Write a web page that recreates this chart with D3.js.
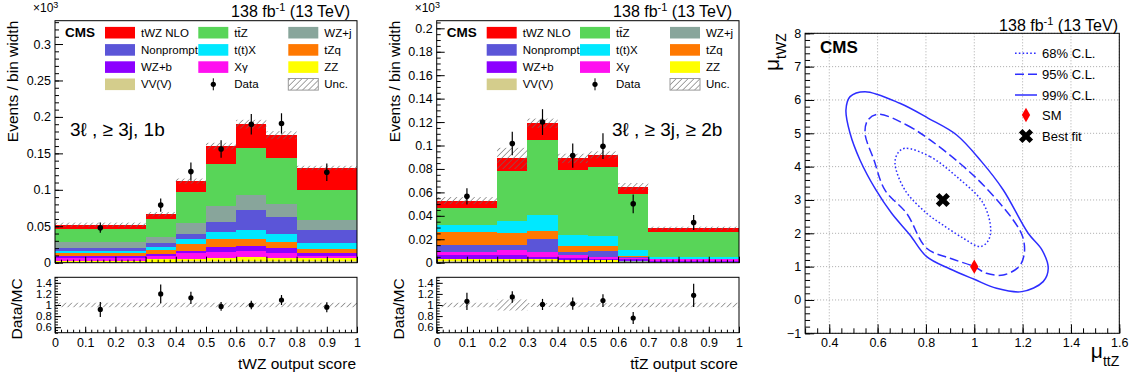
<!DOCTYPE html>
<html>
<head>
<meta charset="utf-8">
<script src="https://cdn.jsdelivr.net/npm/d3@7/dist/d3.min.js"></script>
<style>
  body { margin: 0; background: #fff; }
  svg text { font-family: "Liberation Sans", Arial, Helvetica, sans-serif; fill: #000; }
</style>
</head>
<body>
<svg id="chart" width="1137" height="380"></svg>
<script>
/* ---------- data (units of 10^3 events / bin width) ---------- */

// 3l, >=3j, 1b : tWZ output score
const oneBEdges = [0, 0.3, 0.4, 0.5, 0.6, 0.7, 0.8, 1.0];
const oneB_VVV = [0.0010, 0.0015, 0.0020, 0.0020, 0.0030, 0.0025, 0.0020];
const oneB_ZZ  = [0.0017, 0.0031, 0.0030, 0.0040, 0.0052, 0.0043, 0.0040];
const oneB_Xg  = [0.0041, 0.0050, 0.0078, 0.0090, 0.0078, 0.0060, 0.0036];
const oneB_WZb = [0.0028, 0.0023, 0.0036, 0.0070, 0.0068, 0.0068, 0.0041];
const oneB_tZq = [0.0041, 0.0054, 0.0091, 0.0100, 0.0092, 0.0082, 0.0045];
const oneB_ttX = [0.0023, 0.0037, 0.0065, 0.0100, 0.0127, 0.0122, 0.0082];
const oneB_NP  = [0.0036, 0.0054, 0.0080, 0.0140, 0.0273, 0.0230, 0.0183];
const oneB_WZj = [0.0091, 0.0092, 0.0138, 0.0220, 0.0215, 0.0170, 0.0133];
const oneB_ttZ = [0.0173, 0.0237, 0.0432, 0.0580, 0.0645, 0.0630, 0.0420];
const oneB_tWZ = [0.0060, 0.0073, 0.0150, 0.0240, 0.0320, 0.0320, 0.0300];
const oneB_unc = [0.003, 0.003, 0.0035, 0.0045, 0.006, 0.0055, 0.003];
const oneB_data = [0.048, 0.079, 0.125, 0.156, 0.190, 0.191, 0.124];
const oneB_dataErr = [0.007, 0.009, 0.0125, 0.012, 0.014, 0.014, 0.012];
const oneB_ratio = [0.92, 1.20, 1.13, 0.975, 1.00, 1.09, 0.96];
const oneB_ratioErr = [0.135, 0.17, 0.11, 0.08, 0.075, 0.09, 0.09];
const oneB_ratioUnc = [0.04, 0.04, 0.04, 0.04, 0.04, 0.04, 0.04];

// 3l, >=3j, >=2b : ttZ output score
const twoBEdges = [0, 0.2, 0.3, 0.4, 0.5, 0.6, 0.7, 1.0];
const twoB_VVV = [0.0015, 0.0015, 0.0015, 0.0010, 0.0010, 0.0005, 0.0003];
const twoB_ZZ  = [0.0015, 0.0015, 0.0015, 0.0010, 0.0010, 0.0005, 0.0003];
const twoB_WZj = [0.0005, 0.0005, 0.0005, 0.0005, 0.0005, 0.0005, 0.0002];
const twoB_WZb = [0.0030, 0.0030, 0.0016, 0.0012, 0.0010, 0.0013, 0.0010];
const twoB_Xg  = [0.0029, 0.0044, 0.0043, 0.0028, 0.0016, 0.0009, 0.0010];
const twoB_NP  = [0.0057, 0.0042, 0.0106, 0.0029, 0.0049, 0.0008, 0.0002];
const twoB_tZq = [0.0114, 0.0100, 0.0073, 0.0048, 0.0042, 0.0012, 0.0002];
const twoB_ttX = [0.0056, 0.0106, 0.0134, 0.0094, 0.0088, 0.0051, 0.0014];
const twoB_ttZ = [0.0145, 0.0423, 0.0643, 0.0554, 0.0590, 0.0481, 0.0219];
const twoB_tWZ = [0.0064, 0.0110, 0.0140, 0.0100, 0.0100, 0.0061, 0.0028];
const twoB_unc = [0.003, 0.009, 0.004, 0.004, 0.003, 0.003, 0.0015];
const twoB_data = [0.0566, 0.1017, 0.120, 0.0914, 0.0994, 0.0503, 0.0343];
const twoB_dataErr = [0.007, 0.010, 0.011, 0.0104, 0.011, 0.008, 0.0064];
const twoB_ratio = [1.066, 1.145, 1.01, 1.024, 1.08, 0.765, 1.175];
const twoB_ratioErr = [0.155, 0.105, 0.10, 0.11, 0.115, 0.11, 0.21];
const twoB_ratioUnc = [0.04, 0.10, 0.035, 0.04, 0.035, 0.04, 0.04];

// 2D likelihood scan contours, points (mu_ttZ, mu_tWZ)
const cl68 = [[0.713, 4.55], [0.817, 4.30], [0.927, 3.70], [1.037, 2.90], [1.068, 2.10],
  [1.055, 1.75], [1.024, 1.60], [0.955, 1.85], [0.870, 2.25], [0.803, 2.60], [0.713, 3.30],
  [0.672, 4.10], [0.685, 4.42]];
const cl95 = [[0.603, 5.57], [0.720, 5.25], [0.817, 4.80], [0.940, 4.10], [1.037, 3.45],
  [1.161, 2.40], [1.200, 1.90], [1.207, 1.40], [1.185, 1.00], [1.120, 0.75], [1.050, 0.80],
  [1.000, 1.00], [0.900, 1.25], [0.803, 1.55], [0.720, 2.60], [0.630, 3.30], [0.585, 4.20],
  [0.548, 5.00], [0.560, 5.40]];
const cl99 = [[0.548, 6.25], [0.692, 5.90], [0.810, 5.45], [0.927, 4.95], [1.030, 4.15],
  [1.120, 3.30], [1.223, 2.00], [1.280, 1.50], [1.306, 0.95], [1.285, 0.55], [1.196, 0.25],
  [1.092, 0.35], [1.000, 0.62], [0.900, 0.93], [0.803, 1.30], [0.734, 1.95], [0.658, 2.60],
  [0.593, 3.30], [0.527, 4.20], [0.486, 5.00], [0.469, 5.70], [0.486, 6.10]];
const smPoint = [1.0, 1.0];
const bestFit = [0.87, 3.0];

/* ---------- styling ---------- */
const colors = {
  tWZ: '#ff0000', ttZ: '#58d558', WZj: '#88a59b', NP: '#5b55d8', ttX: '#00e8ff',
  tZq: '#ff7800', WZb: '#8c00ff', Xg: '#ff10f0', ZZ: '#ffff00', VVV: '#d4cd8c'
};
const legendEntries = [
  ['tWZ', 'tWZ NLO'], ['ttZ', 'tt\u0304Z'], ['WZj', 'WZ+j'],
  ['NP', 'Nonprompt'], ['ttX', 't(t)X'], ['tZq', 'tZq'],
  ['WZb', 'WZ+b'], ['Xg', 'X\u03b3'], ['ZZ', 'ZZ'],
  ['VVV', 'VV(V)'], ['data', 'Data'], ['unc', 'Unc.']
];
const blue = '#2d2dff';
const fontFam = '"Liberation Sans", Arial, Helvetica, sans-serif';

const mainTop = 20.7, mainBottom = 262.7, ratioTop = 277.3, ratioBottom = 332.7;

const svg = d3.select('#chart');
const defs = svg.append('defs');
const hatch = defs.append('pattern')
  .attr('id', 'hatch')
  .attr('patternUnits', 'userSpaceOnUse')
  .attr('width', 4.2).attr('height', 4.2)
  .attr('patternTransform', 'rotate(45)');
hatch.append('line')
  .attr('x1', 0).attr('y1', 0).attr('x2', 0).attr('y2', 4.2)
  .attr('stroke', '#6a6a6a').attr('stroke-width', 1.2);

function styleAxis(a, size) {
  a.select('.domain').remove();
  a.attr('font-family', fontFam).attr('font-size', size);
  a.selectAll('line').attr('stroke', '#000');
}

function steps(lo, hi, st) {
  return d3.range(Math.round((hi - lo) / st) + 1).map(i => +(lo + i * st).toFixed(6));
}

function cmsLumi(g, xRight, yBase) {
  const t = g.append('text')
    .attr('x', xRight).attr('y', yBase)
    .attr('text-anchor', 'end')
    .attr('font-size', 16);
  t.append('tspan').text('138 fb');
  t.append('tspan').attr('dy', -6).attr('font-size', 11).text('-1');
  t.append('tspan').attr('dy', 6).text(' (13 TeV)');
}

function drawHistPanel(p) {
  const g = svg.append('g');
  const x = d3.scaleLinear().domain([0, 1]).range([p.left, p.right]);
  const y = d3.scaleLinear().domain([0, p.yMax]).range([mainBottom, mainTop]);
  const yr = d3.scaleLinear().domain([0.5, 1.5]).range([ratioBottom, ratioTop]);

  // stacked histogram
  const table = p.edges.slice(0, -1).map((lo, i) => {
    const row = { lo: lo, hi: p.edges[i + 1] };
    p.order.forEach(k => { row[k] = p.yields[k][i]; });
    return row;
  });
  const layers = d3.stack().keys(p.order)(table);

  g.append('g').selectAll('g')
    .data(layers).join('g')
    .attr('fill', d => colors[d.key])
    .selectAll('rect')
    .data(d => d).join('rect')
    .attr('x', d => x(d.data.lo))
    .attr('width', d => x(d.data.hi) - x(d.data.lo))
    .attr('y', d => y(d[1]))
    .attr('height', d => Math.max(0, y(d[0]) - y(d[1])))
    .attr('shape-rendering', 'crispEdges');

  // uncertainty band
  const totals = layers[layers.length - 1];
  g.append('g').selectAll('rect')
    .data(totals).join('rect')
    .attr('x', d => x(d.data.lo))
    .attr('width', d => x(d.data.hi) - x(d.data.lo))
    .attr('y', (d, i) => y(d[1] + p.unc[i]))
    .attr('height', (d, i) => y(d[1] - p.unc[i]) - y(d[1] + p.unc[i]))
    .attr('fill', 'url(#hatch)');

  // data points
  const centers = table.map(r => (r.lo + r.hi) / 2);
  const pts = g.append('g').selectAll('g')
    .data(p.data).join('g');
  pts.append('line')
    .attr('x1', (d, i) => x(centers[i])).attr('x2', (d, i) => x(centers[i]))
    .attr('y1', (d, i) => y(d - p.dataErr[i])).attr('y2', (d, i) => y(d + p.dataErr[i]))
    .attr('stroke', '#000').attr('stroke-width', 1.2);
  pts.append('circle')
    .attr('cx', (d, i) => x(centers[i])).attr('cy', d => y(d))
    .attr('r', 2.8).attr('fill', '#000');

  // main frame + axes
  g.append('rect')
    .attr('x', p.left).attr('y', mainTop)
    .attr('width', p.right - p.left).attr('height', mainBottom - mainTop)
    .attr('fill', 'none').attr('stroke', '#000');

  g.append('g').attr('transform', `translate(${p.left},0)`)
    .call(d3.axisLeft(y).tickValues(steps(0, p.yMax - (p.yMax % p.yMajor), p.yMajor))
      .tickSize(-8).tickPadding(4).tickFormat(d3.format('~g')))
    .call(a => styleAxis(a, 12.5));
  g.append('g').attr('transform', `translate(${p.left},0)`)
    .call(d3.axisLeft(y).tickValues(steps(0, p.yMax - (p.yMax % p.yMinor), p.yMinor))
      .tickSize(-4).tickFormat(''))
    .call(a => styleAxis(a, 10));
  g.append('g').attr('transform', `translate(0,${mainBottom})`)
    .call(d3.axisBottom(x).tickValues(steps(0, 1, 0.1)).tickSize(-6).tickFormat(''))
    .call(a => styleAxis(a, 10));
  g.append('g').attr('transform', `translate(0,${mainBottom})`)
    .call(d3.axisBottom(x).tickValues(steps(0, 1, 0.02)).tickSize(-3).tickFormat(''))
    .call(a => styleAxis(a, 10));

  // ratio panel
  g.append('g').selectAll('rect')
    .data(table).join('rect')
    .attr('x', d => x(d.lo))
    .attr('width', d => x(d.hi) - x(d.lo))
    .attr('y', (d, i) => yr(1 + p.ratioUnc[i]))
    .attr('height', (d, i) => yr(1 - p.ratioUnc[i]) - yr(1 + p.ratioUnc[i]))
    .attr('fill', 'url(#hatch)');

  const rpts = g.append('g').selectAll('g')
    .data(p.ratio).join('g');
  rpts.append('line')
    .attr('x1', (d, i) => x(centers[i])).attr('x2', (d, i) => x(centers[i]))
    .attr('y1', (d, i) => yr(d - p.ratioErr[i])).attr('y2', (d, i) => yr(d + p.ratioErr[i]))
    .attr('stroke', '#000').attr('stroke-width', 1.2);
  rpts.append('circle')
    .attr('cx', (d, i) => x(centers[i])).attr('cy', d => yr(d))
    .attr('r', 2.6).attr('fill', '#000');

  g.append('rect')
    .attr('x', p.left).attr('y', ratioTop)
    .attr('width', p.right - p.left).attr('height', ratioBottom - ratioTop)
    .attr('fill', 'none').attr('stroke', '#000');

  g.append('g').attr('transform', `translate(${p.left},0)`)
    .call(d3.axisLeft(yr).tickValues([0.6, 0.8, 1, 1.2, 1.4])
      .tickSize(-6).tickPadding(3).tickFormat(d3.format('~g')))
    .call(a => styleAxis(a, 11.5));
  g.append('g').attr('transform', `translate(${p.left},0)`)
    .call(d3.axisLeft(yr).tickValues(steps(0.5, 1.5, 0.05)).tickSize(-3).tickFormat(''))
    .call(a => styleAxis(a, 10));
  g.append('g').attr('transform', `translate(0,${ratioBottom})`)
    .call(d3.axisBottom(x).tickValues(steps(0, 1, 0.1))
      .tickSize(-6).tickPadding(5).tickFormat(d3.format('~g')))
    .call(a => styleAxis(a, 12.5));
  g.append('g').attr('transform', `translate(0,${ratioBottom})`)
    .call(d3.axisBottom(x).tickValues(steps(0, 1, 0.02)).tickSize(-3).tickFormat(''))
    .call(a => styleAxis(a, 10));

  // titles
  g.append('text')
    .attr('transform', `translate(${p.left - 37},${mainTop}) rotate(-90)`)
    .attr('text-anchor', 'end').attr('font-size', 15.5)
    .text('Events / bin width');
  g.append('text')
    .attr('transform', `translate(${p.left - 33},${ratioTop + 1}) rotate(-90)`)
    .attr('text-anchor', 'end').attr('font-size', 15.5)
    .text('Data/MC');
  g.append('text')
    .attr('x', p.right - 1).attr('y', 369)
    .attr('text-anchor', 'end').attr('font-size', 15.5)
    .text(p.xTitle);

  const e3 = g.append('text').attr('x', p.left - 22).attr('y', 12).attr('font-size', 12);
  e3.append('tspan').text('\u00d710');
  e3.append('tspan').attr('dy', -4).attr('font-size', 9).text('3');

  cmsLumi(g, p.right - 7, 16.5);

  g.append('text')
    .attr('x', p.left + 10).attr('y', 36.7)
    .attr('font-weight', 'bold').attr('font-size', 13.5)
    .text('CMS');

  g.append('text')
    .attr('x', p.labelX).attr('y', 136)
    .attr('font-size', 19)
    .text(p.region);

  // legend
  const leg = g.append('g').attr('font-size', 11.5);
  const colX = [50, 143.3, 233.3];
  legendEntries.forEach((e, i) => {
    const bx = p.left + colX[i % 3];
    const cy = 32.7 + Math.floor(i / 3) * 17.2;
    if (e[0] === 'data') {
      leg.append('line').attr('x1', bx + 15).attr('x2', bx + 15)
        .attr('y1', cy - 6).attr('y2', cy + 6).attr('stroke', '#000');
      leg.append('circle').attr('cx', bx + 15).attr('cy', cy).attr('r', 2.6);
    } else if (e[0] === 'unc') {
      leg.append('rect').attr('x', bx).attr('y', cy - 5.8).attr('width', 30).attr('height', 11.6)
        .attr('fill', 'url(#hatch)').attr('stroke', '#999');
    } else {
      leg.append('rect').attr('x', bx).attr('y', cy - 5.8).attr('width', 30).attr('height', 11.6)
        .attr('fill', colors[e[0]]);
    }
    leg.append('text').attr('x', bx + 36).attr('y', cy + 4).text(e[1]);
  });
}

drawHistPanel({
  left: 55, right: 357,
  yMax: 0.332, yMajor: 0.05, yMinor: 0.01,
  edges: oneBEdges,
  order: ['VVV', 'ZZ', 'Xg', 'WZb', 'tZq', 'ttX', 'NP', 'WZj', 'ttZ', 'tWZ'],
  yields: { VVV: oneB_VVV, ZZ: oneB_ZZ, Xg: oneB_Xg, WZb: oneB_WZb, tZq: oneB_tZq,
    ttX: oneB_ttX, NP: oneB_NP, WZj: oneB_WZj, ttZ: oneB_ttZ, tWZ: oneB_tWZ },
  unc: oneB_unc, data: oneB_data, dataErr: oneB_dataErr,
  ratio: oneB_ratio, ratioErr: oneB_ratioErr, ratioUnc: oneB_ratioUnc,
  xTitle: 'tWZ output score',
  region: '3\u2113 , \u2265 3j, 1b', labelX: 70
});

drawHistPanel({
  left: 436.7, right: 739,
  yMax: 0.2065, yMajor: 0.02, yMinor: 0.005,
  edges: twoBEdges,
  order: ['VVV', 'ZZ', 'WZj', 'WZb', 'Xg', 'NP', 'tZq', 'ttX', 'ttZ', 'tWZ'],
  yields: { VVV: twoB_VVV, ZZ: twoB_ZZ, Xg: twoB_Xg, WZb: twoB_WZb, tZq: twoB_tZq,
    ttX: twoB_ttX, NP: twoB_NP, WZj: twoB_WZj, ttZ: twoB_ttZ, tWZ: twoB_tWZ },
  unc: twoB_unc, data: twoB_data, dataErr: twoB_dataErr,
  ratio: twoB_ratio, ratioErr: twoB_ratioErr, ratioUnc: twoB_ratioUnc,
  xTitle: 'tt\u0304Z output score',
  region: '3\u2113 , \u2265 3j, \u2265 2b', labelX: 612
});

/* ---------- likelihood contour panel ---------- */
(function () {
  const L = 805.1, R = 1119.3, T = 33.3, B = 333.3;
  const g = svg.append('g');
  const mx = d3.scaleLinear().domain([0.3, 1.6]).range([L, R]);
  const my = d3.scaleLinear().domain([-1, 8]).range([B, T]);

  // grid
  g.append('g').selectAll('line')
    .data(steps(0.4, 1.6, 0.2)).join('line')
    .attr('x1', d => mx(d)).attr('x2', d => mx(d)).attr('y1', T).attr('y2', B)
    .attr('stroke', '#aaa').attr('stroke-dasharray', '1,2');
  g.append('g').selectAll('line')
    .data(steps(-1, 8, 1)).join('line')
    .attr('y1', d => my(d)).attr('y2', d => my(d)).attr('x1', L).attr('x2', R)
    .attr('stroke', '#aaa').attr('stroke-dasharray', '1,2');

  const line = d3.line()
    .x(d => mx(d[0])).y(d => my(d[1]))
    .curve(d3.curveCatmullRomClosed.alpha(0.5));

  const contours = [
    { pts: cl68, dash: '1.6,2.2', label: '68% C.L.' },
    { pts: cl95, dash: '9,4', label: '95% C.L.' },
    { pts: cl99, dash: null, label: '99% C.L.' }
  ];
  g.append('g').selectAll('path')
    .data(contours).join('path')
    .attr('d', d => line(d.pts))
    .attr('fill', 'none').attr('stroke', blue).attr('stroke-width', 1.5)
    .attr('stroke-dasharray', d => d.dash);

  const diamond = d3.symbol().type(d3.symbolDiamond).size(60);
  const cross = d3.symbol().type(d3.symbolCross).size(125);

  g.append('path')
    .attr('d', diamond())
    .attr('transform', `translate(${mx(smPoint[0])},${my(smPoint[1])})`)
    .attr('fill', '#ff0000');
  g.append('path')
    .attr('d', cross())
    .attr('transform', `translate(${mx(bestFit[0])},${my(bestFit[1])}) rotate(45)`)
    .attr('fill', '#000');

  // frame + axes
  g.append('rect')
    .attr('x', L).attr('y', T).attr('width', R - L).attr('height', B - T)
    .attr('fill', 'none').attr('stroke', '#000');

  g.append('g').attr('transform', `translate(${L},0)`)
    .call(d3.axisLeft(my).tickValues(steps(-1, 8, 1)).tickSize(-9).tickPadding(4))
    .call(a => styleAxis(a, 12.5));
  g.append('g').attr('transform', `translate(${L},0)`)
    .call(d3.axisLeft(my).tickValues(steps(-1, 8, 0.2)).tickSize(-5).tickFormat(''))
    .call(a => styleAxis(a, 10));
  g.append('g').attr('transform', `translate(0,${B})`)
    .call(d3.axisBottom(mx).tickValues(steps(0.4, 1.6, 0.2)).tickSize(-9).tickPadding(5)
      .tickFormat(d3.format('~g')))
    .call(a => styleAxis(a, 12.5));
  g.append('g').attr('transform', `translate(0,${B})`)
    .call(d3.axisBottom(mx).tickValues(steps(0.3, 1.6, 0.05)).tickSize(-5).tickFormat(''))
    .call(a => styleAxis(a, 10));

  // axis titles
  const yt = g.append('text')
    .attr('transform', `translate(779,${T}) rotate(-90)`)
    .attr('text-anchor', 'end').attr('font-size', 21);
  yt.append('tspan').text('\u03bc');
  yt.append('tspan').attr('dy', 7).attr('font-size', 14).text('tWZ');

  const xt = g.append('text')
    .attr('x', R).attr('y', 358)
    .attr('text-anchor', 'end').attr('font-size', 21);
  xt.append('tspan').text('\u03bc');
  xt.append('tspan').attr('dy', 8).attr('font-size', 14).text('ttZ');

  cmsLumi(g, 1118, 30.5);
  g.append('text')
    .attr('x', 820).attr('y', 53)
    .attr('font-weight', 'bold').attr('font-size', 17)
    .text('CMS');

  // legend
  const leg = g.append('g').attr('font-size', 13);
  const rows = [53.3, 74.3, 95, 115, 136];
  contours.forEach((c, i) => {
    leg.append('line')
      .attr('x1', 1015).attr('x2', 1037).attr('y1', rows[i]).attr('y2', rows[i])
      .attr('stroke', blue).attr('stroke-width', 1.5).attr('stroke-dasharray', c.dash);
    leg.append('text').attr('x', 1042).attr('y', rows[i] + 4.5).text(c.label);
  });
  leg.append('path').attr('d', diamond())
    .attr('transform', `translate(1026,${rows[3]})`).attr('fill', '#ff0000');
  leg.append('text').attr('x', 1042).attr('y', rows[3] + 4.5).text('SM');
  leg.append('path').attr('d', cross())
    .attr('transform', `translate(1026,${rows[4]}) rotate(45)`).attr('fill', '#000');
  leg.append('text').attr('x', 1042).attr('y', rows[4] + 4.5).text('Best fit');
})();
</script>
</body>
</html>
